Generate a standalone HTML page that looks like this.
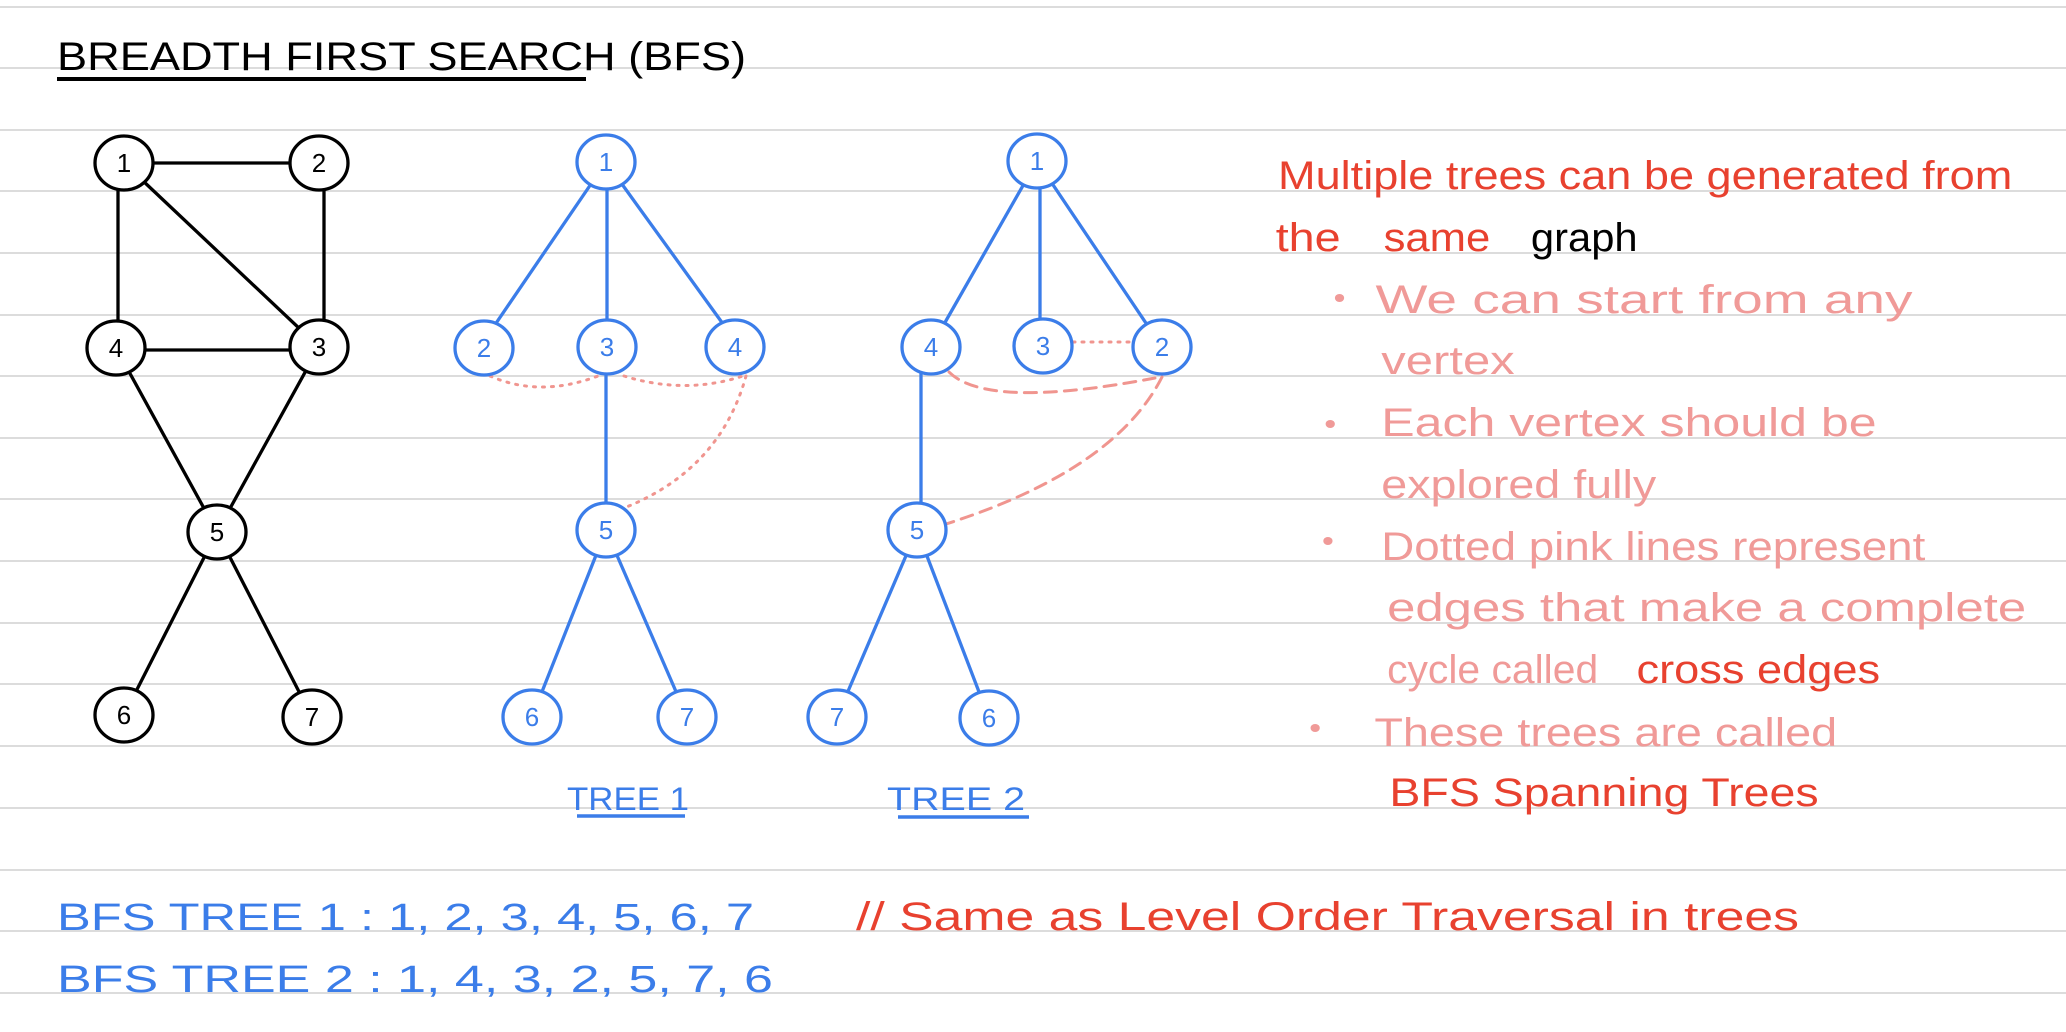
<!DOCTYPE html>
<html><head><meta charset="utf-8"><style>
html,body{margin:0;padding:0;background:#fff;}
svg{display:block;}
text{font-family:"Liberation Sans",sans-serif;}
</style></head><body>
<svg width="2066" height="1032" viewBox="0 0 2066 1032" xmlns="http://www.w3.org/2000/svg">
<g stroke="#dcdcdc" stroke-width="2">
<line x1="0" y1="7" x2="2066" y2="7"/><line x1="0" y1="68" x2="2066" y2="68"/><line x1="0" y1="130" x2="2066" y2="130"/><line x1="0" y1="191" x2="2066" y2="191"/><line x1="0" y1="253" x2="2066" y2="253"/><line x1="0" y1="315" x2="2066" y2="315"/><line x1="0" y1="376" x2="2066" y2="376"/><line x1="0" y1="438" x2="2066" y2="438"/><line x1="0" y1="499" x2="2066" y2="499"/><line x1="0" y1="561" x2="2066" y2="561"/><line x1="0" y1="623" x2="2066" y2="623"/><line x1="0" y1="684" x2="2066" y2="684"/><line x1="0" y1="746" x2="2066" y2="746"/><line x1="0" y1="808" x2="2066" y2="808"/><line x1="0" y1="870" x2="2066" y2="870"/><line x1="0" y1="931" x2="2066" y2="931"/><line x1="0" y1="993" x2="2066" y2="993"/>
</g>
<text x="57" y="70" font-size="40" textLength="689" lengthAdjust="spacingAndGlyphs">BREADTH FIRST SEARCH (BFS)</text>
<line x1="57" y1="79" x2="586" y2="79" stroke="#000" stroke-width="4"/>

<!-- black graph -->
<g stroke="#000" stroke-width="3.3" fill="none">
<line x1="124" y1="163" x2="319" y2="163"/><line x1="118" y1="163" x2="118" y2="348"/><line x1="324" y1="163" x2="324" y2="347"/>
<line x1="124" y1="163" x2="319" y2="347"/><line x1="116" y1="350" x2="319" y2="350"/>
<line x1="116" y1="348" x2="217" y2="532"/><line x1="319" y1="347" x2="217" y2="532"/>
<line x1="217" y1="532" x2="124" y2="715"/><line x1="217" y1="532" x2="312" y2="717"/>
</g>
<g stroke="#000" stroke-width="3.3" fill="#fff">
<ellipse cx="124" cy="163" rx="29" ry="27"/><ellipse cx="319" cy="163" rx="29" ry="27"/><ellipse cx="116" cy="348" rx="29" ry="27"/><ellipse cx="319" cy="347" rx="29" ry="27"/><ellipse cx="217" cy="532" rx="29" ry="27"/><ellipse cx="124" cy="715" rx="29" ry="27"/><ellipse cx="312" cy="717" rx="29" ry="27"/>
</g>
<g font-size="26" text-anchor="middle" fill="#000">
<text x="124" y="172">1</text><text x="319" y="172">2</text><text x="116" y="357">4</text><text x="319" y="356">3</text><text x="217" y="541">5</text><text x="124" y="724">6</text><text x="312" y="726">7</text>
</g>

<!-- pink cross edges -->
<g stroke="#f0958f" stroke-width="3" fill="none" stroke-linecap="round">
<path d="M490 376 Q540 398 598 376" stroke-dasharray="2 7"/>
<path d="M624 376 Q685 395 743 376" stroke-dasharray="2 7"/>
<path d="M746 376 Q720 470 624 508" stroke-dasharray="2 7"/>
<path d="M1073 342 L1138 342" stroke-dasharray="2 7"/>
<path d="M949 372 Q987 410 1155 378" stroke-dasharray="12 8"/>
<path d="M1162 377 Q1115 470 946 524" stroke-dasharray="12 8"/>
</g>

<!-- blue trees -->
<g stroke="#3b7de9" stroke-width="3.3" fill="none">
<line x1="606" y1="162" x2="488" y2="335"/><line x1="607" y1="162" x2="607" y2="347"/><line x1="606" y1="162" x2="731" y2="335"/>
<line x1="606" y1="347" x2="606" y2="530"/><line x1="606" y1="530" x2="532" y2="717"/><line x1="606" y1="530" x2="687" y2="717"/>
<line x1="1037" y1="161" x2="931" y2="347"/><line x1="1040" y1="161" x2="1040" y2="346"/><line x1="1037" y1="161" x2="1162" y2="347"/>
<line x1="921" y1="347" x2="921" y2="530"/><line x1="917" y1="530" x2="837" y2="717"/><line x1="917" y1="530" x2="989" y2="718"/>
</g>
<g stroke="#3b7de9" stroke-width="3.3" fill="#fff">
<ellipse cx="606" cy="162" rx="29" ry="27"/><ellipse cx="484" cy="348" rx="29" ry="27"/><ellipse cx="607" cy="347" rx="29" ry="27"/><ellipse cx="735" cy="347" rx="29" ry="27"/><ellipse cx="606" cy="530" rx="29" ry="27"/><ellipse cx="532" cy="717" rx="29" ry="27"/><ellipse cx="687" cy="717" rx="29" ry="27"/>
<ellipse cx="1037" cy="161" rx="29" ry="27"/><ellipse cx="931" cy="347" rx="29" ry="27"/><ellipse cx="1043" cy="346" rx="29" ry="27"/><ellipse cx="1162" cy="347" rx="29" ry="27"/><ellipse cx="917" cy="530" rx="29" ry="27"/><ellipse cx="837" cy="717" rx="29" ry="27"/><ellipse cx="989" cy="718" rx="29" ry="27"/>
</g>
<g font-size="26" text-anchor="middle" fill="#3b7de9">
<text x="606" y="171">1</text><text x="484" y="357">2</text><text x="607" y="356">3</text><text x="735" y="356">4</text><text x="606" y="539">5</text><text x="532" y="726">6</text><text x="687" y="726">7</text>
<text x="1037" y="170">1</text><text x="931" y="356">4</text><text x="1043" y="355">3</text><text x="1162" y="356">2</text><text x="917" y="539">5</text><text x="837" y="726">7</text><text x="989" y="727">6</text>
</g>
<g fill="#3b7de9" font-size="32">
<text x="567" y="810" textLength="122" lengthAdjust="spacingAndGlyphs">TREE 1</text>
<text x="887" y="810" textLength="138" lengthAdjust="spacingAndGlyphs">TREE 2</text>
</g>
<g stroke="#3b7de9" stroke-width="3.5"><line x1="577" y1="816" x2="685" y2="816"/><line x1="898" y1="817" x2="1029" y2="817"/></g>

<!-- bottom text -->
<g fill="#3b7de9" font-size="38">
<text x="57" y="930" textLength="697" lengthAdjust="spacingAndGlyphs">BFS  TREE  1 :  1, 2, 3, 4, 5, 6, 7</text>
<text x="57" y="992" textLength="716" lengthAdjust="spacingAndGlyphs">BFS  TREE  2 :  1, 4, 3, 2, 5, 7, 6</text>
</g>
<text x="856" y="930" font-size="40" fill="#e8412f" textLength="943" lengthAdjust="spacingAndGlyphs">//  Same  as  Level  Order  Traversal  in  trees</text>

<!-- right notes -->
<g font-size="40" transform="matrix(1.16 0 0 1 -194 0)">
<text x="1269" y="189" fill="#e8412f" textLength="633" lengthAdjust="spacingAndGlyphs">Multiple  trees  can  be  generated  from</text>
<text x="1267" y="251" fill="#e8412f" textLength="56" lengthAdjust="spacingAndGlyphs">the</text>
<text x="1360" y="251" fill="#e8412f" textLength="92" lengthAdjust="spacingAndGlyphs">same</text>
<text x="1487" y="251" fill="#000" textLength="92" lengthAdjust="spacingAndGlyphs">graph</text>
<g fill="#f09a98">
<text x="1353" y="313" textLength="463" lengthAdjust="spacingAndGlyphs">We  can  start  from  any</text>
<text x="1358" y="374" textLength="115" lengthAdjust="spacingAndGlyphs">vertex</text>
<text x="1358" y="436" textLength="427" lengthAdjust="spacingAndGlyphs">Each  vertex  should  be</text>
<text x="1358" y="498" textLength="237" lengthAdjust="spacingAndGlyphs">explored  fully</text>
<text x="1358" y="560" textLength="469" lengthAdjust="spacingAndGlyphs">Dotted  pink  lines  represent</text>
<text x="1363" y="621" textLength="551" lengthAdjust="spacingAndGlyphs">edges  that  make  a  complete</text>
<text x="1363" y="683" textLength="182" lengthAdjust="spacingAndGlyphs">cycle  called</text>
<text x="1352" y="746" textLength="399" lengthAdjust="spacingAndGlyphs">These  trees  are  called</text>
<circle cx="1322" cy="298" r="4"/><circle cx="1314" cy="424" r="4"/><circle cx="1312" cy="541" r="4"/><circle cx="1301" cy="728" r="4"/>
</g>
<text x="1578" y="683" fill="#e8412f" textLength="210" lengthAdjust="spacingAndGlyphs">cross  edges</text>
<text x="1365" y="806" fill="#e8412f" textLength="370" lengthAdjust="spacingAndGlyphs">BFS  Spanning  Trees</text>
</g>
</svg>
</body></html>
